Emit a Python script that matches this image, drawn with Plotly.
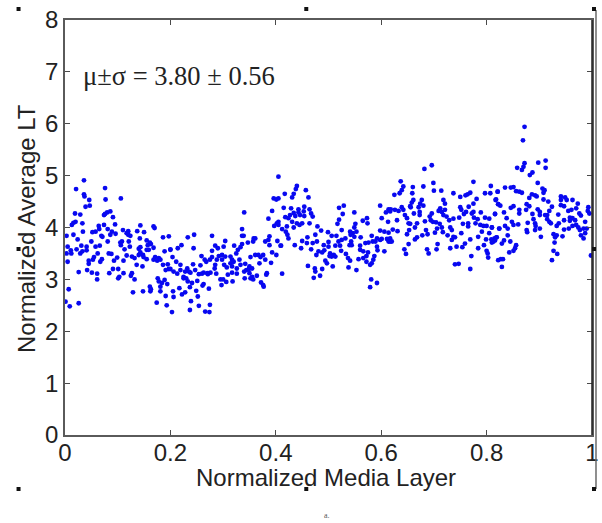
import plotly.graph_objects as go

x_a = [.036,.021,.076,.036,.037,.046,.077,.106,.039,.047,.019,.029,.086,.080,.074,.076,.091,.020,.016,.013,.033,.095,.143,.168,.170,.064,.074,.065,.081,.034,.058,.052,.089,.096,.086,.110,.120,.117,.120,.124,.137,.150,.003,.016,.069,.071,.024,.142,.186,.197,.081,.050,.105,.108,.106,.121,.123,.155,.161,.157,.163,.005,.031,.041,.041,.058,.066,.113,.140,.143,.168,.155,.159,.022,.003,.011,.012,.029,.033,.062,.083,.088,.189,.200,.117,.127,.132,.140,.143,.148,.149,.155,.099,.093,.055,.053,.070,.067,.111,.045,.045,.042,.005,.136,.147,.171,.178,.168,.175,.181,.186,.195,.197,.191,.091,.101,.111,.084,.103,.101,.127,.125,.132,.026,.051,.061,.061,.176,.178,.184,.181,.189,.194,.161,.163,.162,.129,.148,.181,.191,.007,.001,.009,.026,.174,.193]
y_a = [4.91,4.74,4.76,4.64,4.60,4.53,4.54,4.56,4.40,4.42,4.27,4.25,4.31,4.29,4.24,4.26,4.20,4.11,4.09,4.05,4.08,4.06,4.04,4.02,3.99,4.03,4.05,3.97,3.97,3.92,3.92,3.91,3.92,3.88,3.86,3.95,3.93,3.89,3.86,3.84,3.93,3.91,3.84,3.86,3.84,3.82,3.77,3.79,3.81,3.83,3.73,3.73,3.71,3.73,3.66,3.73,3.63,3.75,3.71,3.66,3.68,3.63,3.65,3.63,3.56,3.63,3.65,3.58,3.59,3.62,3.61,3.57,3.57,3.58,3.50,3.56,3.50,3.50,3.54,3.50,3.50,3.49,3.54,3.58,3.46,3.44,3.41,3.47,3.52,3.47,3.43,3.39,3.42,3.36,3.43,3.38,3.39,3.34,3.36,3.36,3.30,3.18,3.34,3.28,3.25,3.43,3.41,3.38,3.36,3.38,3.28,3.29,3.20,3.18,3.20,3.20,3.12,3.12,3.05,3.02,3.12,3.07,3.00,3.14,3.13,3.11,3.00,3.02,2.96,2.93,2.86,2.99,2.91,2.86,2.81,2.77,2.75,2.77,2.77,2.68,2.81,2.57,2.48,2.54,2.55,2.50]

x_b = [.279,.245,.233,.221,.214,.200,.244,.304,.301,.285,.290,.279,.340,.336,.336,.339,.336,.347,.321,.333,.328,.325,.358,.357,.361,.380,.388,.388,.386,.396,.401,.405,.393,.386,.405,.402,.397,.405,.405,.403,.409,.393,.401,.204,.211,.219,.259,.268,.265,.279,.275,.292,.298,.304,.314,.288,.298,.285,.284,.302,.307,.314,.317,.331,.320,.317,.352,.361,.367,.371,.369,.380,.391,.376,.342,.350,.349,.355,.344,.333,.326,.383,.382,.243,.257,.270,.232,.219,.228,.200,.206,.213,.225,.235,.238,.247,.254,.260,.263,.276,.271,.225,.230,.287,.326,.340,.350,.355,.309,.317,.295,.300,.297,.306,.318,.341,.352,.357,.364,.372,.376,.377,.233,.241,.251,.263,.261,.273,.237,.217,.228,.222,.249,.252,.205,.206,.239,.254,.275,.237,.266,.274,.203]
y_b = [3.84,3.86,3.81,3.66,3.60,3.57,3.60,3.74,3.63,3.65,3.60,3.55,4.29,3.97,3.84,3.84,3.68,3.71,3.65,3.62,3.57,3.50,3.79,3.73,3.79,3.73,3.83,3.66,3.76,4.56,4.54,4.56,4.32,4.17,4.11,4.08,4.03,4.05,4.98,3.74,3.65,3.52,3.47,3.43,3.34,3.28,3.45,3.34,3.38,3.43,3.38,3.45,3.47,3.44,3.44,3.38,3.38,3.28,3.21,3.28,3.23,3.31,3.38,3.38,3.34,3.25,3.43,3.47,3.47,3.43,3.31,3.38,3.32,3.47,3.30,3.25,3.20,3.21,3.18,3.28,3.21,3.12,3.09,3.29,3.27,3.12,3.21,3.18,3.15,3.20,3.15,3.11,3.05,3.15,3.13,3.18,3.10,3.11,3.13,3.13,3.10,3.02,3.02,3.11,3.11,3.15,3.12,3.05,3.09,3.13,3.00,3.00,2.89,2.95,2.96,3.02,3.02,3.00,3.07,2.94,2.89,2.86,2.96,2.93,2.97,2.91,2.88,2.82,2.85,2.83,2.75,2.71,2.78,2.67,2.77,2.66,2.58,2.49,2.51,2.41,2.38,2.37,2.37]

x_c = [.440,.438,.457,.417,.434,.431,.462,.529,.520,.527,.598,.415,.429,.443,.454,.453,.443,.464,.467,.470,.434,.427,.437,.424,.418,.446,.454,.549,.614,.609,.617,.601,.613,.573,.565,.574,.520,.517,.464,.450,.440,.445,.431,.551,.549,.479,.486,.421,.434,.412,.419,.422,.525,.598,.606,.614,.553,.546,.541,.499,.506,.515,.475,.582,.561,.424,.460,.532,.525,.519,.549,.542,.500,.450,.459,.470,.478,.491,.500,.513,.522,.543,.540,.544,.570,.576,.584,.592,.598,.589,.601,.611,.617,.614,.560,.560,.566,.592,.593,.410,.436,.448,.467,.492,.488,.481,.477,.503,.510,.506,.502,.513,.524,.533,.537,.541,.575,.572,.606,.587,.585,.579,.582,.557,.566,.572,.494,.497,.461,.508,.538,.553,.474,.475,.488,.412,.484,.472,.581,.592,.579]
y_c = [4.80,4.74,4.72,4.65,4.65,4.58,4.58,4.42,4.38,4.26,4.42,4.38,4.37,4.35,4.40,4.31,4.29,4.35,4.27,4.21,4.28,4.24,4.22,4.18,4.20,4.24,4.22,4.29,4.35,4.29,4.31,4.18,4.11,4.18,4.13,4.08,4.15,4.07,4.08,4.08,4.08,4.05,4.11,4.07,4.00,4.02,3.94,4.02,4.00,3.97,3.92,3.86,3.95,3.94,3.92,3.90,3.92,3.89,3.92,3.91,3.84,3.84,3.86,3.84,3.81,3.79,3.81,3.79,3.76,3.73,3.82,3.86,3.72,3.74,3.70,3.70,3.73,3.66,3.63,3.65,3.65,3.73,3.66,3.66,3.70,3.71,3.73,3.79,3.76,3.73,3.78,3.78,3.79,3.73,3.65,3.57,3.54,3.63,3.56,3.65,3.66,3.60,3.58,3.56,3.52,3.54,3.47,3.50,3.47,3.44,3.45,3.44,3.55,3.49,3.41,3.36,3.52,3.45,3.54,3.45,3.38,3.28,3.31,3.39,3.41,3.34,3.36,3.31,3.26,3.25,3.23,3.18,3.21,3.15,3.20,3.11,3.07,3.03,3.00,2.93,2.85]

x_d = [.696,.682,.637,.775,.699,.808,.660,.680,.642,.639,.635,.625,.700,.714,.659,.737,.769,.764,.760,.750,.797,.807,.821,.781,.818,.822,.661,.658,.656,.655,.677,.674,.671,.680,.718,.721,.775,.766,.750,.752,.761,.757,.639,.642,.645,.649,.618,.626,.633,.662,.673,.673,.712,.709,.715,.721,.696,.692,.694,.698,.718,.724,.775,.772,.789,.816,.776,.783,.779,.788,.797,.805,.737,.748,.729,.630,.683,.668,.664,.653,.655,.652,.755,.765,.765,.704,.711,.715,.706,.731,.734,.794,.800,.810,.824,.622,.631,.685,.688,.678,.649,.702,.717,.726,.734,.737,.740,.752,.791,.784,.805,.668,.664,.617,.620,.769,.759,.743,.754,.799,.815,.819,.813,.810,.652,.707,.731,.784,.795,.644,.647,.687,.690,.705,.800,.802,.803,.771,.740,.747,.769,.822]
y_d = [5.20,5.13,4.89,4.88,4.86,4.80,4.78,4.79,4.79,4.72,4.66,4.63,4.71,4.71,4.66,4.66,4.67,4.64,4.62,4.59,4.66,4.66,4.69,4.55,4.54,4.45,4.53,4.48,4.39,4.41,4.53,4.46,4.39,4.42,4.53,4.46,4.46,4.40,4.39,4.34,4.30,4.26,4.39,4.34,4.24,4.18,4.35,4.34,4.32,4.27,4.30,4.24,4.37,4.32,4.30,4.34,4.27,4.21,4.14,4.11,4.24,4.21,4.30,4.27,4.29,4.26,4.19,4.16,4.08,4.05,4.19,4.17,4.17,4.19,4.14,4.14,4.12,4.08,4.00,3.95,4.07,4.08,4.07,4.08,4.02,4.10,4.07,4.00,3.98,4.00,3.95,4.03,4.03,4.00,3.98,3.96,3.93,3.95,3.87,3.85,3.87,3.90,3.91,3.85,3.76,3.82,3.81,3.89,3.92,3.82,3.89,3.81,3.77,3.73,3.73,3.77,3.69,3.63,3.62,3.77,3.79,3.81,3.73,3.71,3.68,3.68,3.60,3.60,3.66,3.58,3.49,3.58,3.50,3.58,3.55,3.50,3.42,3.45,3.29,3.30,3.20,3.37]

x_e = [.872,.869,.912,.898,.912,.872,.870,.858,.867,.887,.882,.897,.835,.846,.851,.821,.856,.862,.867,.906,.910,.908,.886,.892,.881,.895,.817,.822,.826,.908,.941,.941,.949,.952,.963,.917,.876,.881,.851,.846,.941,.947,.973,.970,.924,.919,.915,.897,.901,.901,.862,.875,.862,.833,.955,.961,.993,.992,.995,.816,.887,.911,.936,.976,.979,.838,.958,.963,.968,.958,.889,.892,.893,.915,.919,.922,.947,.848,.851,.860,.878,.987,.937,.933,.835,.840,.824,.810,.970,.963,.956,.947,.901,.876,.877,.892,.974,.977,.984,.990,.979,.987,.984,.927,.933,.930,.944,.840,.903,.929,.819,.816,.812,.809,.833,.829,.845,.856,.854,.851,.843,.927,.934,.827,.831,.829,.924,.998,1.0]
y_e = [5.94,5.68,5.29,5.25,5.15,5.24,5.17,5.15,5.11,5.06,5.01,4.86,4.77,4.77,4.78,4.69,4.70,4.69,4.67,4.75,4.72,4.67,4.64,4.62,4.57,4.60,4.53,4.45,4.42,4.54,4.60,4.53,4.58,4.53,4.53,4.50,4.45,4.41,4.41,4.38,4.43,4.41,4.46,4.37,4.40,4.32,4.24,4.35,4.30,4.24,4.34,4.34,4.27,4.29,4.32,4.34,4.39,4.32,4.27,4.26,4.26,4.24,4.25,4.27,4.23,4.18,4.19,4.18,4.14,4.13,4.16,4.08,4.03,4.16,4.11,4.08,4.14,4.11,4.05,4.06,4.09,4.11,4.08,4.03,4.03,3.98,3.98,4.00,4.05,4.03,3.98,3.96,3.98,3.95,3.91,3.95,4.00,3.95,3.98,3.98,3.85,3.89,3.79,3.87,3.85,3.81,3.83,3.85,3.82,3.71,3.81,3.75,3.73,3.77,3.75,3.69,3.73,3.66,3.60,3.55,3.52,3.55,3.49,3.39,3.39,3.24,3.37,3.46,-0.02]

x_vals = x_a + x_b + x_c + x_d + x_e
y_vals = y_a + y_b + y_c + y_d + y_e

x_ticks = [0, 0.2, 0.4, 0.6, 0.8, 1]
x_labels = ["0", "0.2", "0.4", "0.6", "0.8", "1"]
y_ticks = [0, 1, 2, 3, 4, 5, 6, 7, 8]

W, H = 602, 523
L, R, T, B = 64.5, 592.0, 20.0, 435.0

fig = go.Figure(go.Scatter(
    x=x_vals, y=y_vals, mode="markers", cliponaxis=False,
    marker=dict(color="#0808f0", size=4.8, line=dict(width=0)),
    showlegend=False,
))

axis_common = dict(
    showgrid=False, zeroline=False, mirror="ticks", showline=True,
    linecolor="#5a5a5a", linewidth=1.5, ticks="inside", ticklen=5,
    tickcolor="#4a4a4a", tickwidth=1,
    tickfont=dict(family="Liberation Sans", size=24, color="#222222"),
)

fig.update_layout(
    width=W, height=H, autosize=False,
    margin=dict(l=L, r=W - R, t=T, b=H - B, pad=0, autoexpand=False),
    paper_bgcolor="white", plot_bgcolor="white",
    xaxis=dict(range=[0, 1], tickvals=x_ticks, ticktext=x_labels, ticklabelstandoff=-5, **axis_common),
    yaxis=dict(range=[0, 8], tickvals=y_ticks, **axis_common),
)

def px(v):
    return (v - L) / (R - L)

def py(v):
    return (B - v) / (B - T)

annotations = [
    dict(text="Normalized Media Layer", x=px(326), y=py(477), xref="paper", yref="paper",
         showarrow=False, xanchor="center", yanchor="middle",
         font=dict(family="Liberation Sans", size=24, color="#222222")),
    dict(text="Normalized Average LT", x=px(25.5), y=py(229), xref="paper", yref="paper",
         showarrow=False, textangle=-90, xanchor="center", yanchor="middle",
         font=dict(family="Liberation Sans", size=24, color="#222222")),
    dict(text="μ±σ = 3.80 ± 0.56", x=px(81), y=py(75.5), xref="paper", yref="paper",
         showarrow=False, xanchor="left", yanchor="middle",
         font=dict(family="Liberation Serif", size=26.5, color="#222222")),
    dict(text="a.", x=px(327), y=py(515), xref="paper", yref="paper",
         showarrow=False, xanchor="center", yanchor="middle",
         font=dict(family="Liberation Serif", size=8, color="#555555")),
]

shapes = [
    dict(type="line", xref="paper", yref="paper", x0=px(596), x1=px(596), y0=py(10), y1=py(489),
         line=dict(color="#6a6a6a", width=1.5)),
    dict(type="line", xref="paper", yref="paper", x0=px(592), x1=px(592), y0=py(20), y1=py(435),
         line=dict(color="#222222", width=1.5)),
]
for hx, hy in [(18, 9), (306, 9), (594, 9), (18, 249), (594, 249), (18, 489), (306, 489), (594, 489)]:
    shapes.append(dict(type="rect", xref="paper", yref="paper",
                       x0=px(hx - 2), x1=px(hx + 2), y0=py(hy - 2), y1=py(hy + 2),
                       fillcolor="#111111", line=dict(width=0)))

fig.update_layout(annotations=annotations, shapes=shapes)
fig.write_html("out.html", config={"displayModeBar": False},
               post_script="document.body.style.margin='0';")
